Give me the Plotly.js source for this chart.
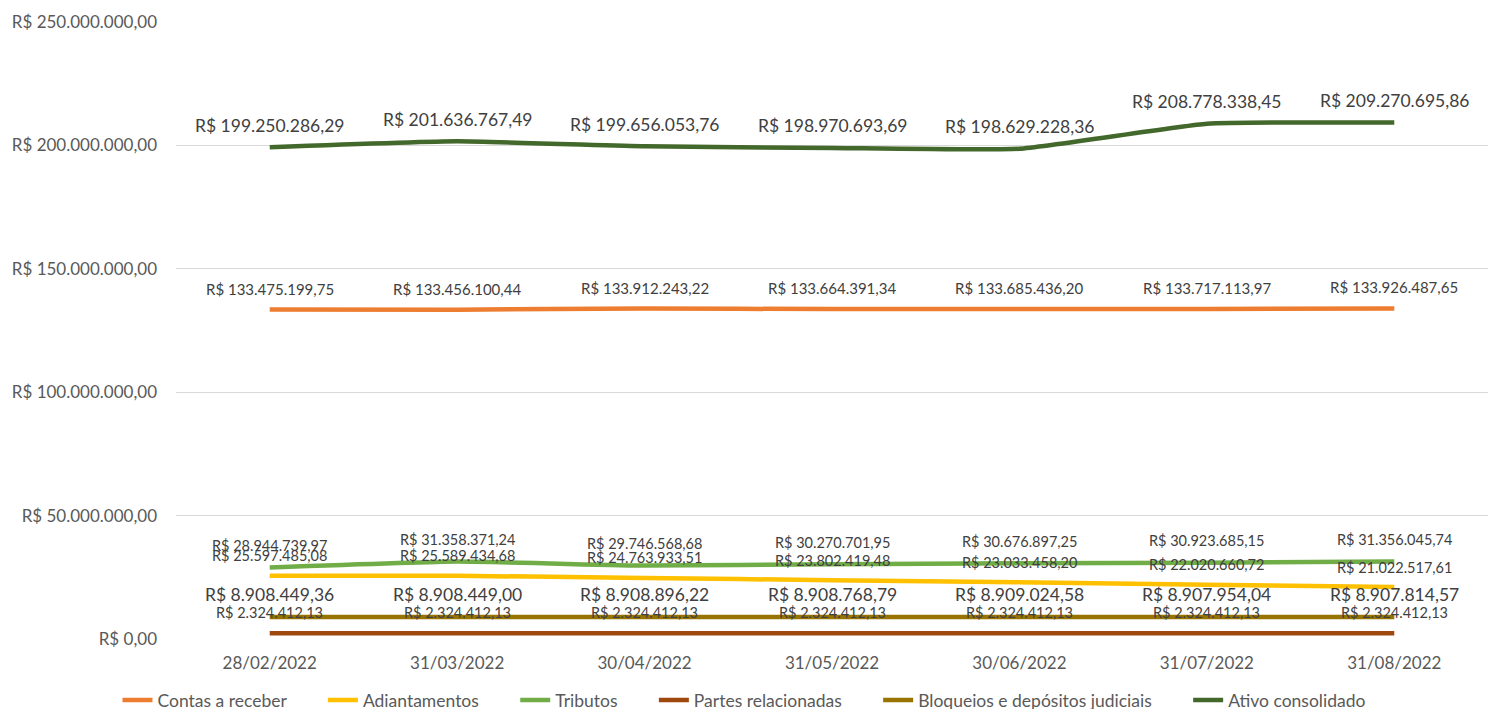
<!DOCTYPE html>
<html>
<head>
<meta charset="utf-8">
<script src="https://cdn.plot.ly/plotly-3.0.1.min.js"></script>
<style>html,body{margin:0;padding:0;background:#fff}#chart{width:1488px;height:709px}</style>
</head>
<body>
<div id="chart"></div>
<script>
const categories = ["28/02/2022","31/03/2022","30/04/2022","31/05/2022","30/06/2022","31/07/2022","31/08/2022"];

const contasReceber = [133475199.75,133456100.44,133912243.22,133664391.34,133685436.20,133717113.97,133926487.65];
const adiantamentos = [25597485.08,25589434.68,24763933.51,23802419.48,23033458.20,22020660.72,21022517.61];
const tributos = [28944739.97,31358371.24,29746568.68,30270701.95,30676897.25,30923685.15,31356045.74];
const partesRelacionadas = [2324412.13,2324412.13,2324412.13,2324412.13,2324412.13,2324412.13,2324412.13];
const bloqueios = [8908449.36,8908449.00,8908896.22,8908768.79,8909024.58,8907954.04,8907814.57];
const ativoConsolidado = [199250286.29,201636767.49,199656053.76,198970693.69,198629228.36,208778338.45,209270695.86];

const yTickVals = [0,50000000,100000000,150000000,200000000,250000000];
const yTickText = ["R$ 0,00","R$ 50.000.000,00","R$ 100.000.000,00","R$ 150.000.000,00","R$ 200.000.000,00","R$ 250.000.000,00"];

function brl(v){
  const parts = v.toFixed(2).split(".");
  const intPart = parts[0].replace(/\B(?=(\d{3})+(?!\d))/g, ".");
  return "R$ " + intPart + "," + parts[1];
}

const FONT = "Lato, 'Open Sans', sans-serif";

const series = [
  {name:"Contas a receber", y:contasReceber, color:"#ED7D31", lsize:15, shift:21},
  {name:"Adiantamentos", y:adiantamentos, color:"#FFC000", lsize:14.5, shift:20},
  {name:"Tributos", y:tributos, color:"#70AD47", lsize:14.5, shift:22},
  {name:"Partes relacionadas", y:partesRelacionadas, color:"#9E480E", lsize:14.5, shift:21},
  {name:"Bloqueios e depósitos judiciais", y:bloqueios, color:"#997300", lsize:17.5, shift:23},
  {name:"Ativo consolidado", y:ativoConsolidado, color:"#43682B", lsize:17.5, shift:22}
];

const PAD = "\u00a0\u00a0\u00a0\u00a0\u00a0\u00a0\u00a0";
const traces = series.map((s, k) => ({
  type:"scatter", mode:"lines", name:s.name + (k < series.length - 1 ? PAD : ""), x:categories, y:s.y,
  line:{color:s.color, width:4.5, shape:"spline", smoothing:0.4},
  hoverinfo:"skip"
}));

const annotations = [];
series.forEach(s => {
  s.y.forEach((v,i) => {
    annotations.push({
      x:categories[i], y:v, xref:"x", yref:"y", text:brl(v), showarrow:false,
      yshift:s.shift, font:{family:FONT, size:s.lsize, color:"#404040"}
    });
  });
});

const layout = {
  width:1488, height:709,
  margin:{l:176, r:0, t:22, b:70, autoexpand:false},
  paper_bgcolor:"#fff", plot_bgcolor:"#fff",
  showlegend:true,
  legend:{orientation:"h", x:0.5, xanchor:"center", xref:"container",
    y:9/709, yanchor:"middle", yref:"container",
    font:{family:FONT, size:17.5, color:"#595959"}, itemwidth:30, tracegroupgap:0},
  xaxis:{type:"category", range:[-0.5,6.5], showgrid:false, zeroline:false,
    showline:false, ticks:"", ticklabelstandoff:12,
    tickfont:{family:FONT, size:17, color:"#595959"}},
  yaxis:{range:[0,250000000], tickvals:yTickVals, ticktext:yTickText,
    showgrid:true, gridcolor:"#D9D9D9", gridwidth:1, zeroline:false,
    showline:false, ticks:"", ticklabelstandoff:18,
    tickfont:{family:FONT, size:17, color:"#595959"}},
  annotations:annotations
};

Plotly.newPlot("chart", traces, layout, {displayModeBar:false, staticPlot:true});
</script>
</body>
</html>
